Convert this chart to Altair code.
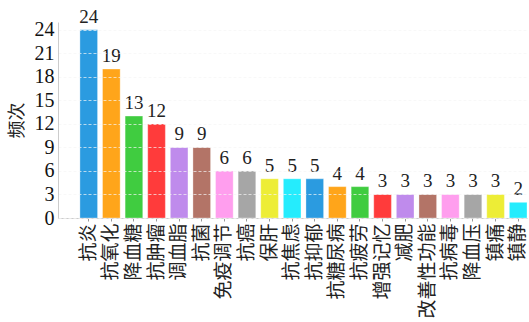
import altair as alt
import pandas as pd

categories = ["抗炎", "抗氧化", "降血糖", "抗肿瘤", "调血脂", "抗菌", "免疫调节", "抗癌", "保肝", "抗焦虑",
              "抗抑郁", "抗糖尿病", "抗疲劳", "增强记忆", "减肥", "改善性功能", "抗病毒", "降血压", "镇痛", "镇静"]
counts = [24, 19, 13, 12, 9, 9, 6, 6, 5, 5, 5, 4, 4, 3, 3, 3, 3, 3, 3, 2]

palette = ["#2b9be0", "#ffa51a", "#40cc40", "#ff3b3b", "#bf8bec",
           "#b37467", "#ff9eee", "#a6a6a6", "#eded36", "#25ecfd"]
colors = [palette[i % len(palette)] for i in range(len(categories))]

df = pd.DataFrame({"功效": categories, "频次": counts})

x_enc = alt.X("功效:N", sort=categories,
              scale=alt.Scale(paddingInner=0.22, paddingOuter=0.485, align=1),
              axis=alt.Axis(title=None, labelAngle=-90, labelFont="Noto Sans CJK SC",
                            labelFontSize=19, labelColor="#222222", labelPadding=2,
                            tickSize=3, tickColor="#999999", domainColor="#cccccc",
                            grid=False))

y_enc = alt.Y("频次:Q", scale=alt.Scale(domain=[0, 25], nice=False),
              axis=alt.Axis(title="频次", values=list(range(0, 25, 3)), labelOverlap=False,
                            titleFont="Noto Sans CJK SC", titleFontSize=18, titleFontWeight="normal",
                            titleColor="#222222", titlePadding=8,
                            labelFont="Liberation Serif", labelFontSize=20, labelColor="#111111",
                            labelPadding=4, ticks=False, domainColor="#cccccc",
                            grid=True, gridColor="#f5f5f5", gridDash=[3, 2], gridOpacity=0.7,
                            zindex=1))

bars = alt.Chart(df).mark_bar(stroke="#ffffff", strokeWidth=0.8, strokeOpacity=0.4).encode(
    x=x_enc,
    y=y_enc,
    color=alt.Color("功效:N", scale=alt.Scale(domain=categories, range=colors), legend=None),
)

labels = alt.Chart(df).mark_text(baseline="bottom", dy=-3, font="Liberation Serif",
                                 fontSize=19, color="#222222").encode(
    x=x_enc,
    y=y_enc,
    text="频次:Q",
)

chart = alt.layer(bars, labels).properties(
    width=469, height=196,
    background="white",
    autosize=alt.AutoSizeParams(type="none"),
    padding={"left": 58, "top": 22, "right": 2, "bottom": 104},
).configure_view(strokeWidth=0, stroke="transparent")

chart.save("out.html", embed_options={"renderer": "svg", "actions": False})
